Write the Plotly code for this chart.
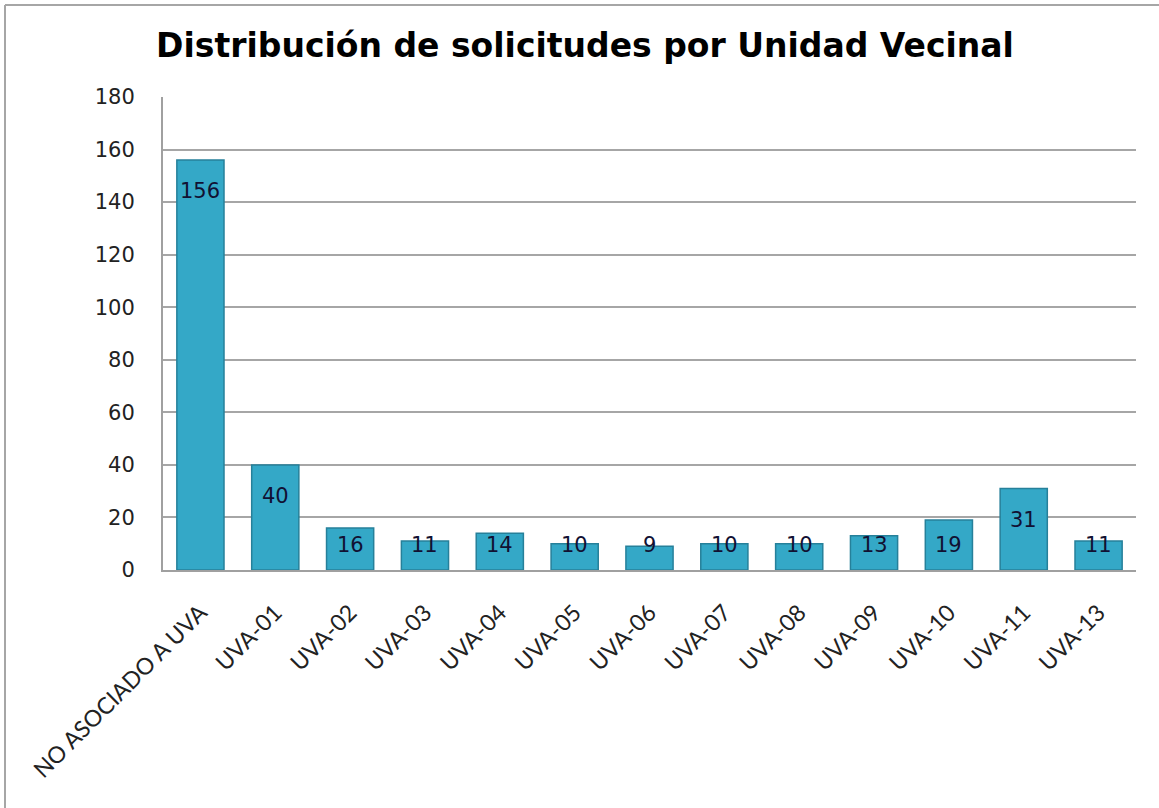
import plotly.graph_objects as go

categories = ["NO ASOCIADO A UVA", "UVA-01", "UVA-02", "UVA-03", "UVA-04", "UVA-05",
              "UVA-06", "UVA-07", "UVA-08", "UVA-09", "UVA-10", "UVA-11", "UVA-13"]
solicitudes = [156, 40, 16, 11, 14, 10, 9, 10, 10, 13, 19, 31, 11]
y_ticks = [0, 20, 40, 60, 80, 100, 120, 140, 160, 180]

W, H = 1159, 808
ML, MR, MT, MB = 163, 23, 97, 238
plot_w = W - ML - MR
plot_h = H - MT - MB
px_per_unit = plot_h / 180.0

fig = go.Figure()
fig.add_trace(go.Bar(
    x=categories, y=solicitudes,
    marker=dict(color="#34A8C7", line=dict(color="#26809A", width=1.5)),
    hoverinfo="x+y",
))

# value labels placed inside near top of bar (clamped for short bars)
for c, v in zip(categories, solicitudes):
    off = min(31.0, v * px_per_unit - 25.0)
    fig.add_annotation(x=c, y=v, xref="x", yref="y", text=str(v), showarrow=False,
                       yanchor="middle", yshift=-off,
                       font=dict(family="DejaVu Sans", size=21, color="#111133"))

# outer chart border (top and left visible)
bx = -(ML - 5) / plot_w
by = 1 + (MT - 5) / plot_h
fig.add_shape(type="line", xref="paper", yref="paper",
              x0=bx, x1=(W - ML + 20) / plot_w, y0=by, y1=by,
              line=dict(color="#A6A6A6", width=2))
fig.add_shape(type="line", xref="paper", yref="paper",
              x0=bx, x1=bx, y0=by, y1=-(MB + 20) / plot_h,
              line=dict(color="#A6A6A6", width=2))

fig.update_layout(
    width=W, height=H,
    margin=dict(l=ML, r=MR, t=MT, b=MB, autoexpand=False),
    paper_bgcolor="white", plot_bgcolor="white",
    title=dict(text="<b>Distribución de solicitudes por Unidad Vecinal</b>",
               xref="container", x=585 / W, xanchor="center",
               y=1 - 45 / H, yanchor="middle",
               font=dict(family="DejaVu Sans", size=33, color="black")),
    showlegend=False,
    bargap=0.37,
)
fig.update_xaxes(
    tickangle=-45, showgrid=False, showline=True, linecolor="#A0A0A0", linewidth=2,
    tickfont=dict(family="Lato", size=23, color="#222222"), ticks="",
    ticklabelstandoff=18,
)
fig.update_yaxes(
    range=[0, 180], tickvals=y_ticks, showgrid=True, gridcolor="#A6A6A6", gridwidth=2,
    showline=True, linecolor="#A0A0A0", linewidth=2, ticks="",
    ticklabelstandoff=22,
    tickfont=dict(family="DejaVu Sans", size=21, color="#222222"), zeroline=False,
)

fig.write_html("out.html", config={"displayModeBar": False},
               post_script="document.body.style.margin='0';document.body.style.overflow='hidden';")
